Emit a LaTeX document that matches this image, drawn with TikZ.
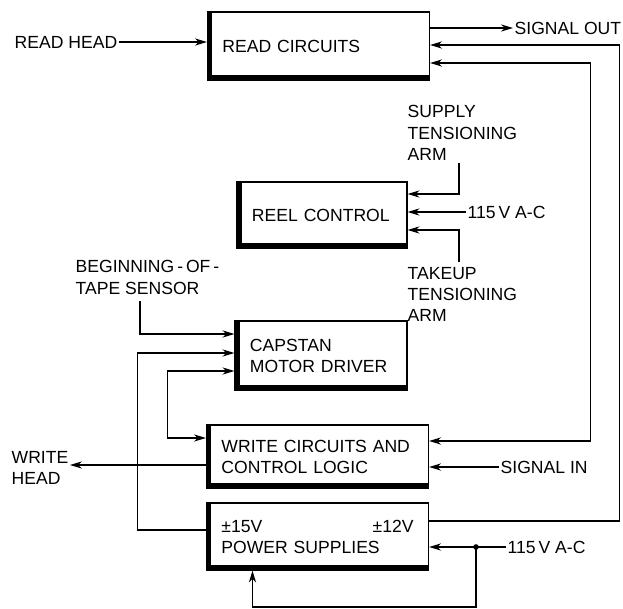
\documentclass[tikz,border=0pt]{standalone}
\usepackage{fontspec}
\setmainfont{Liberation Sans}
\usetikzlibrary{arrows.meta, positioning}
\tikzset{
  unit/.style={rectangle, draw, line width=0.8pt, align=left,
    inner xsep=0.375cm, inner ysep=0pt,
    path picture={\draw[line width=7pt]
      (path picture bounding box.north west) --
      (path picture bounding box.south west) --
      (path picture bounding box.south east);}},
  lbl/.style={inner sep=1pt, align=left},
  >={Stealth[length=3mm, width=1.8mm]},
  arrow/.style={->, line width=0.8pt},
  twoway/.style={<->, line width=0.8pt}
}
\begin{document}
\begin{tikzpicture}[x=0.025cm, y=-0.025cm,
  every node/.style={font=\fontsize{12.5}{15}\selectfont}]
  \useasboundingbox (0,0) rectangle (623,609);

  % Blocks
  \node[unit, text width=4.8cm, minimum height=1.7cm] (read) at (318.5,46) {READ CIRCUITS};
  \node[unit, text width=3.5cm, minimum height=1.65cm] (reel) at (322,215) {REEL CONTROL};
  \node[unit, text width=3.55cm, minimum height=1.725cm] (capstan) at (321,355.5) {CAPSTAN\\MOTOR DRIVER};
  \node[unit, text width=4.8cm, minimum height=1.575cm] (write) at (317.5,456.5) {WRITE CIRCUITS AND\\CONTROL LOGIC};
  \node[unit, text width=4.8cm, minimum height=1.675cm] (power) at (317.5,536.5) {±15V\hfill±12V\\POWER SUPPLIES};

  % Inputs & Outputs
  \node[lbl, anchor=west] (rdhead) at (13,42) {READ HEAD};
  \node[lbl, anchor=west] (sigout) at (513,28) {SIGNAL OUT};
  \node[lbl, anchor=north west] (supply) at (406,104) {SUPPLY\\TENSIONING\\ARM};
  \node[lbl, anchor=west] (acreel) at (466,212) {115\,V A-C};
  \node[lbl, anchor=north west] (takeup) at (406,266) {TAKEUP\\TENSIONING\\ARM};
  \node[lbl, anchor=north west] (sensor) at (74,259) {BEGINNING\,-\,OF\,-\\TAPE SENSOR};
  \node[lbl, anchor=east] (wrhead) at (70,468) {WRITE\\HEAD};
  \node[lbl, anchor=west] (sigin) at (499,467) {SIGNAL IN};
  \node[lbl, anchor=west] (acpwr) at (506,547) {115\,V A-C};

  \coordinate (supplyend) at (459,163);
  \coordinate (takeupend) at (459,262);
  \coordinate (sensorend) at (140,301);
  \coordinate (acjoin) at (acpwr.west -| 476,0);

  % Connections
  \draw[arrow] (rdhead.east) -- (rdhead.east -| read.west);
  \draw[arrow] (read.east |- sigout.west) -- (sigout.west);
  \draw[arrow] (power.east |- 0,521) -- ++(190,0) |- (read.east |- 0,45);
  \draw[twoway] (read.east |- 0,63) -- ++(160,0) |- (write.east |- 0,441);

  \draw[arrow] (supplyend) |- (reel.east |- 0,194);
  \draw[arrow] (acreel.west) -- (acreel.west -| reel.east);
  \draw[arrow] (takeupend) |- (reel.east |- 0,230);

  \draw[arrow] (sensorend) |- (capstan.west |- 0,334);
  \draw[arrow] (power.west |- 0,530) -- ++(-68,0) |- (capstan.west |- 0,353);
  \draw[twoway] (capstan.west |- 0,371) -- ++(-67,0) |- (write.west |- 0,438);

  \draw[arrow] (write.west |- 0,465) -- (wrhead.east |- 0,465);
  \draw[arrow] (sigin.west) -- (sigin.west -| write.east);

  \draw[arrow] (acpwr.west) -- (acpwr.west -| power.east);
  \fill (acjoin) circle (2pt);
  \draw[arrow] (acjoin) -- ++(0,60) -| ([xshift=-1.625cm]power.south);
\end{tikzpicture}
\end{document}
